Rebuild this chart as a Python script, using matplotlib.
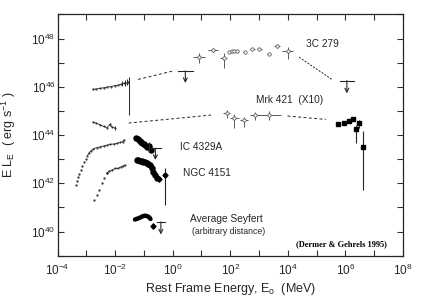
import numpy as np
import matplotlib
matplotlib.use("Agg")
import matplotlib.pyplot as plt
from matplotlib.ticker import FixedLocator, FuncFormatter

plt.rcParams['font.family'] = ['Liberation Sans', 'DejaVu Sans']
plt.rcParams['mathtext.default'] = 'regular'

# all values are log10(E / MeV) and log10(E L_E / erg s^-1)
# 3C 279
c279_xray_x = [-2.77, -2.65, -2.52, -2.4, -2.28, -2.15, -2.02, -1.9, -1.8, -1.7, -1.6, -1.54]
c279_xray_y = [45.90, 45.91, 45.94, 45.96, 45.99, 46.01, 46.05, 46.07, 46.10, 46.14, 46.16, 46.20]
c279_xbar_x = [-1.77, -1.66, -1.59, -1.53]
c279_xbar_lo = [46.02, 46.05, 46.07, 44.83]
c279_xbar_hi = [46.26, 46.30, 46.33, 46.42]
c279_dash1_x = [-1.2, -0.02]
c279_dash1_y = [46.31, 46.65]
c279_ul1 = (0.44, 46.66, 46.16)
c279_egret_x = [0.91, 1.41, 1.78, 1.97, 2.05, 2.13, 2.24, 2.51, 2.77, 3.01, 3.34, 3.62, 3.99]
c279_egret_y = [47.25, 47.53, 47.20, 47.43, 47.47, 47.47, 47.49, 47.46, 47.56, 47.56, 47.36, 47.68, 47.47]
c279_egret_xerr = [0.21, 0.18, 0.12, 0.03, 0.03, 0.03, 0.03, 0.05, 0.08, 0.08, 0.06, 0.1, 0.18]
c279_egret_ylo = [0.27, 0.08, 0.42, 0.03, 0.03, 0.03, 0.03, 0.04, 0.05, 0.05, 0.05, 0.08, 0.33]
c279_egret_yhi = [0.17, 0.08, 0.20, 0.03, 0.03, 0.03, 0.03, 0.04, 0.05, 0.05, 0.05, 0.08, 0.19]
c279_dash2_x = [4.39, 5.53]
c279_dash2_y = [47.23, 46.31]
c279_ul2 = (6.05, 46.26, 45.73)

# Mrk 421 (x10)
mrk_xray_x = [-2.77, -2.65, -2.52, -2.4, -2.28, -2.18, -2.1, -2.02]
mrk_xray_y = [44.54, 44.49, 44.43, 44.36, 44.31, 44.44, 44.33, 44.30]
mrk_dash1_x = [-1.53, 1.33]
mrk_dash1_y = [44.50, 44.83]
mrk_egret_x = [1.87, 2.14, 2.49, 2.875, 3.35]
mrk_egret_y = [44.90, 44.69, 44.63, 44.83, 44.83]
mrk_egret_xerr = [0.12, 0.16, 0.14, 0.20, 0.41]
mrk_egret_ylo = [0.20, 0.41, 0.28, 0.20, 0.20]
mrk_egret_yhi = [0.14, 0.18, 0.13, 0.14, 0.18]
mrk_dash2_x = [3.99, 5.32]
mrk_dash2_y = [44.79, 44.65]
mrk_tev_x = [5.73, 5.95, 6.12, 6.25, 6.36, 6.48, 6.62]
mrk_tev_y = [44.46, 44.50, 44.60, 44.68, 44.24, 44.49, 43.51]
mrk_tev_ylo = [0.0, 0.0, 0.0, 0.0, 0.56, 0.21, 1.79]
mrk_tev_yhi = [0.0, 0.0, 0.0, 0.0, 0.18, 0.14, 0.66]

# IC 4329A
ic_xray_x = [-3.36, -3.33, -3.29, -3.25, -3.2, -3.14, -3.08, -3.02, -2.96, -2.9, -2.84,
             -2.76, -2.64, -2.52, -2.4, -2.28, -2.16, -2.04, -1.92, -1.82, -1.74, -1.70]
ic_xray_y = [41.95, 42.10, 42.25, 42.40, 42.55, 42.73, 42.88, 43.02, 43.15, 43.27, 43.35,
             43.42, 43.48, 43.51, 43.55, 43.58, 43.62, 43.63, 43.66, 43.70, 43.72, 43.80]
ic_osse_x = [-1.26, -1.20, -1.15, -1.10, -1.05, -1.0, -0.95, -0.88, -0.82, -0.77]
ic_osse_y = [43.88, 43.82, 43.76, 43.72, 43.66, 43.62, 43.57, 43.52, 43.55, 43.40]
ic_ul = (-0.60, 43.45, 42.97)

# NGC 4151
ngc_xray_x = [-2.72, -2.62, -2.55, -2.47, -2.39, -2.29, -2.2, -2.1, -2.0, -1.9, -1.8, -1.72, -1.66]
ngc_xray_y = [41.30, 41.52, 41.72, 42.00, 42.21, 42.42, 42.50, 42.55, 42.62, 42.62, 42.68, 42.72, 42.76]
ngc_osse_x = [-1.25, -1.2, -1.14, -1.08, -1.02, -0.96, -0.90, -0.84, -0.79, -0.73, -0.67, -0.61, -0.56]
ngc_osse_y = [42.97, 42.95, 42.93, 42.92, 42.90, 42.88, 42.86, 42.82, 42.76, 42.62, 42.48, 42.35, 42.21]
ngc_err_x = [-0.47, -0.27]
ngc_err_y = [42.17, 42.35]
ngc_err_lo = [0.1, 1.25]
ngc_err_hi = [0.1, 0.27]

# Average Seyfert
sey_x = [-1.31, -1.24, -1.17, -1.10, -1.03, -0.96, -0.89, -0.82, -0.77]
sey_y = [40.50, 40.53, 40.56, 40.60, 40.64, 40.66, 40.64, 40.60, 40.52]
sey_pt = (-0.67, 40.23, 0.12)
sey_ul = (-0.41, 40.40, 39.88)

fig = plt.figure(figsize=(4.36, 3.0), dpi=100)
ax = fig.add_axes([0.1319, 0.1477, 0.7924, 0.8040])
ax.set_xscale('log')
ax.set_yscale('log')
ax.set_xlim(1e-4, 1e8)
ax.set_ylim(1e39, 1e49)

P = lambda a: 10.0 ** np.asarray(a)
k = '0.15'


def upper_limit(u, w=0.25):
    x, top, tip = u
    ax.plot([10 ** (x - w), 10 ** (x + w)], [10 ** top, 10 ** top], color=k, lw=0.8)
    ax.annotate('', xy=(10 ** x, 10 ** tip), xytext=(10 ** x, 10 ** top),
                arrowprops=dict(arrowstyle='->', color=k, lw=0.8, shrinkA=0, shrinkB=0,
                                mutation_scale=7))


def egret(xs, ys, xe, ylo, yhi):
    xs, ys = np.asarray(xs), np.asarray(ys)
    xl = P(xs) - P(xs - np.asarray(xe))
    xh = P(xs + np.asarray(xe)) - P(xs)
    yl = P(ys) - P(ys - np.asarray(ylo))
    yh = P(ys + np.asarray(yhi)) - P(ys)
    ax.errorbar(P(xs), P(ys), xerr=[xl, xh], yerr=[yl, yh], fmt='o', ms=2.4,
                mfc='white', mec='0.35', mew=0.6, ecolor='0.35', elinewidth=0.7, capsize=0)


# 3C 279
ax.plot(P(c279_xray_x), P(c279_xray_y), color=k, lw=0.6, marker='.', ms=1.0)
ax.vlines(P(c279_xbar_x), P(c279_xbar_lo), P(c279_xbar_hi), color=k, lw=0.7)
ax.plot(P(c279_dash1_x), P(c279_dash1_y), color=k, lw=0.7, dashes=(3, 2.5))
upper_limit(c279_ul1)
egret(c279_egret_x, c279_egret_y, c279_egret_xerr, c279_egret_ylo, c279_egret_yhi)
ax.plot(P(c279_dash2_x), P(c279_dash2_y), color=k, lw=0.7, dashes=(2, 1.5))
upper_limit(c279_ul2)

# Mrk 421
ax.plot(P(mrk_xray_x), P(mrk_xray_y), color=k, lw=0.6, marker='.', ms=1.0)
ax.vlines([10 ** -2.02, 10 ** -2.18], [10 ** 44.22, 10 ** 44.38], [10 ** 44.38, 10 ** 44.5], color=k, lw=0.6)
ax.plot(P(mrk_dash1_x), P(mrk_dash1_y), color=k, lw=0.7, dashes=(3, 2.5))
egret(mrk_egret_x, mrk_egret_y, mrk_egret_xerr, mrk_egret_ylo, mrk_egret_yhi)
ax.plot(P(mrk_dash2_x), P(mrk_dash2_y), color=k, lw=0.7, dashes=(3, 2.5))
ty = np.asarray(mrk_tev_y)
ax.errorbar(P(mrk_tev_x), P(ty), yerr=[P(ty) - P(ty - np.asarray(mrk_tev_ylo)),
                                         P(ty + np.asarray(mrk_tev_yhi)) - P(ty)],
            fmt='s', ms=3.0, color='black', ecolor=k, elinewidth=0.8, capsize=0)

# IC 4329A
ax.plot(P(ic_xray_x[:8]), P(ic_xray_y[:8]), ls='none', marker='.', ms=1.2, color=k)
ax.plot(P(ic_xray_x[8:]), P(ic_xray_y[8:]), color=k, lw=0.6, marker='.', ms=1.0)
ax.plot(P(ic_osse_x), P(ic_osse_y), 'o', ms=3.6, color='black')
ax.vlines(10 ** -0.82, 10 ** 43.3, 10 ** 43.7, color=k, lw=0.8)
upper_limit(ic_ul, 0.2)

# NGC 4151
ax.plot(P(ngc_xray_x[:6]), P(ngc_xray_y[:6]), ls='none', marker='.', ms=1.2, color=k)
ax.plot(P(ngc_xray_x[5:]), P(ngc_xray_y[5:]), color=k, lw=0.6, marker='.', ms=1.0)
ax.plot(P(ngc_osse_x), P(ngc_osse_y), 'o', ms=3.6, color='black')
ey = np.asarray(ngc_err_y)
ax.errorbar(P(ngc_err_x), P(ey), yerr=[P(ey) - P(ey - np.asarray(ngc_err_lo)),
                                        P(ey + np.asarray(ngc_err_hi)) - P(ey)],
            xerr=[P(ngc_err_x) - P(np.asarray(ngc_err_x) - 0.06), P(np.asarray(ngc_err_x) + 0.06) - P(ngc_err_x)],
            fmt='D', ms=2.6, color='black', ecolor=k, elinewidth=0.8, capsize=0)

# Average Seyfert
ax.plot(P(sey_x), P(sey_y), color='black', lw=3.2, solid_capstyle='round')
ax.errorbar([10 ** sey_pt[0]], [10 ** sey_pt[1]],
            yerr=[[10 ** sey_pt[1] - 10 ** (sey_pt[1] - sey_pt[2])], [10 ** (sey_pt[1] + sey_pt[2]) - 10 ** sey_pt[1]]],
            xerr=[[10 ** sey_pt[0] - 10 ** (sey_pt[0] - 0.06)], [10 ** (sey_pt[0] + 0.06) - 10 ** sey_pt[0]]],
            fmt='D', ms=2.6, color='black', ecolor=k, elinewidth=0.8, capsize=0)
upper_limit(sey_ul, 0.15)

# labels
ts = 7.3
ax.text(0.719, 0.876, '3C 279', transform=ax.transAxes, fontsize=ts, va='center', color='0.15')
ax.text(0.575, 0.646, 'Mrk 421  (X10)', transform=ax.transAxes, fontsize=ts, va='center', color='0.15')
ax.text(0.355, 0.452, 'IC 4329A', transform=ax.transAxes, fontsize=ts, va='center', color='0.15')
ax.text(0.362, 0.342, 'NGC 4151', transform=ax.transAxes, fontsize=ts, va='center', color='0.15')
ax.text(0.383, 0.152, 'Average Seyfert', transform=ax.transAxes, fontsize=ts, va='center', color='0.15')
ax.text(0.388, 0.102, '(arbitrary distance)', transform=ax.transAxes, fontsize=6.3, va='center', color='0.15')
ax.text(0.690, 0.0485, '(Dermer & Gehrels 1995)', transform=ax.transAxes, fontsize=6,
        va='center', family='Liberation Serif', weight='bold')

# axes styling
xdec = np.arange(-4, 9)
ydec = np.arange(39, 50)
ax.xaxis.set_major_locator(FixedLocator(10.0 ** xdec))
ax.yaxis.set_major_locator(FixedLocator(10.0 ** ydec))
ax.xaxis.set_minor_locator(FixedLocator([]))
ax.yaxis.set_minor_locator(FixedLocator([]))
fmt = FuncFormatter(lambda v, p: '$10^{%d}$' % round(np.log10(v)) if round(np.log10(v)) % 2 == 0 else '')
ax.xaxis.set_major_formatter(fmt)
ax.yaxis.set_major_formatter(fmt)
ax.tick_params(which='both', direction='in', top=True, right=True, length=4, width=0.8,
               labelsize=8.5, color='0.2', labelcolor='0.15')
ax.tick_params(axis='x', pad=5)
ax.tick_params(axis='y', pad=1.5)
for s in ax.spines.values():
    s.set_linewidth(0.9)
    s.set_color('0.15')

ax.set_xlabel('Rest Frame Energy, E$_o$  (MeV)', fontsize=9, color='0.15')
ax.set_ylabel('E L$_E$  ( erg s$^{-1}$ )', fontsize=9, color='0.15')
ax.xaxis.set_label_coords(0.5, -0.105)
ax.yaxis.set_label_coords(-0.115, 0.5)

plt.savefig('out.png', dpi=100)
